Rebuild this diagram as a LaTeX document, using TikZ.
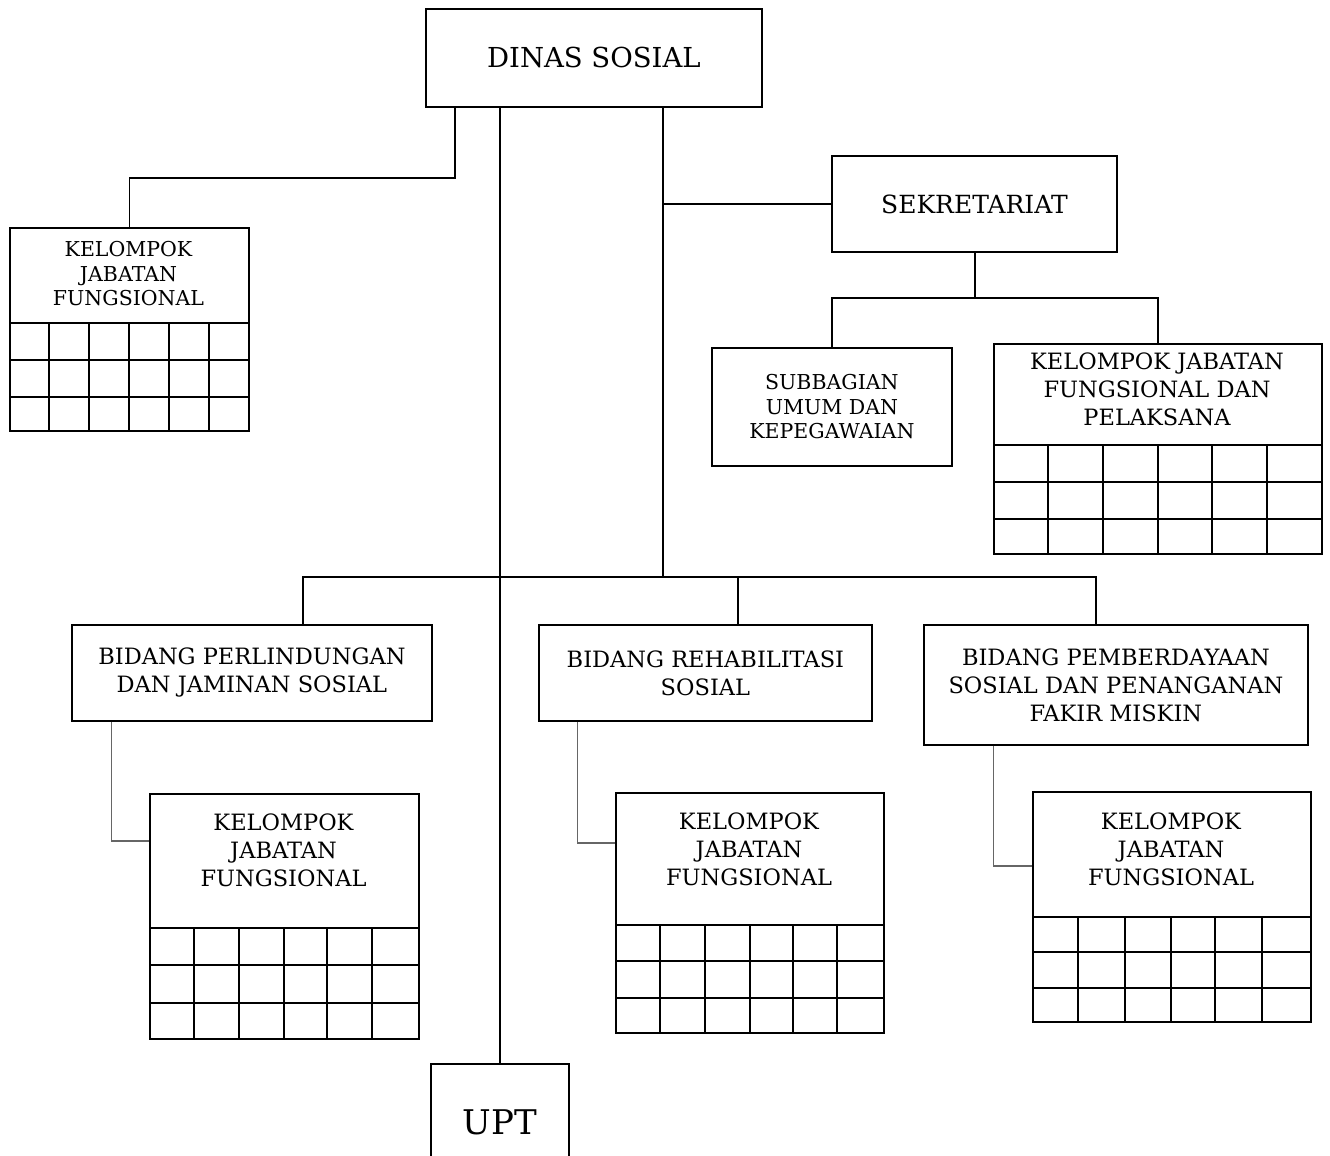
\documentclass[tikz,border=0pt]{standalone}
\usepackage{fontspec}
\setmainfont{DejaVu Serif}
\usetikzlibrary{calc}
\newcommand\txtS{\fontsize{20.5}{24.5}\selectfont}
\newcommand\txtM{\fontsize{22.5}{28}\selectfont}
\begin{document}
\begin{tikzpicture}[x=1pt,y=-1pt,
  unit/.style={draw,line width=1.8pt,inner sep=0pt,anchor=north west,align=center},
  lbl/.style={inner sep=0pt,align=center},
  conn/.style={line width=1.8pt},
  sub/.style={line width=1.1pt,draw=black!60},
  cell/.style={line width=1.8pt}]
\useasboundingbox (0,0) rectangle (1330,1156);
\clip (0,0) rectangle (1330,1156);

% top level
\node[unit,minimum width=336,minimum height=98,font=\fontsize{27.5}{32}\selectfont] (dinas) at (425,8) {DINAS SOSIAL};
\node[unit,minimum width=285,minimum height=96,font=\fontsize{25}{30}\selectfont] (sek) at (831,155) {SEKRETARIAT};
\node[unit,minimum width=240,minimum height=118,font=\txtS] (subag) at (711,347) {SUBBAGIAN\\UMUM DAN\\KEPEGAWAIAN};

% functional groups (box with a 6x3 grid below the title)
\node[unit,minimum width=239,minimum height=203] (kjfL) at (9,227) {};
\node[lbl,font=\txtS] (tL) at (128.5,274) {KELOMPOK\\JABATAN\\FUNGSIONAL};
\foreach \yy in {323,360,397} \draw[cell] (9,\yy) -- (248,\yy);
\foreach \xx in {49,89,129,169,209} \draw[cell] (\xx,323) -- (\xx,430);

\node[unit,minimum width=328,minimum height=210] (kjfS) at (993,343) {};
\node[lbl,font=\txtM] (tS) at (1157,389) {KELOMPOK JABATAN\\FUNGSIONAL DAN\\PELAKSANA};
\foreach \yy in {445,482,519} \draw[cell] (993,\yy) -- (1321,\yy);
\foreach \xx in {1048,1103,1158,1212,1267} \draw[cell] (\xx,445) -- (\xx,553);

% divisions
\node[unit,minimum width=360,minimum height=96,font=\txtM] (bidP) at (71,624) {BIDANG PERLINDUNGAN\\DAN JAMINAN SOSIAL};
\node[unit,minimum width=333,minimum height=96,font=\txtM] (bidR) at (538,624) {BIDANG REHABILITASI\\SOSIAL};
\node[unit,minimum width=384,minimum height=120,font=\txtM] (bidE) at (923,624) {BIDANG PEMBERDAYAAN\\SOSIAL DAN PENANGANAN\\FAKIR MISKIN};

\node[unit,minimum width=269,minimum height=245] (kjf1) at (149,793) {};
\node[lbl,font=\txtM] (t1) at (283.5,850) {KELOMPOK\\JABATAN\\FUNGSIONAL};
\foreach \yy in {928,965,1003} \draw[cell] (149,\yy) -- (418,\yy);
\foreach \xx in {194,239,284,327,372} \draw[cell] (\xx,928) -- (\xx,1038);

\node[unit,minimum width=268,minimum height=240] (kjf2) at (615,792) {};
\node[lbl,font=\txtM] (t2) at (749,849) {KELOMPOK\\JABATAN\\FUNGSIONAL};
\foreach \yy in {925,961,998} \draw[cell] (615,\yy) -- (883,\yy);
\foreach \xx in {660,705,750,793,837} \draw[cell] (\xx,925) -- (\xx,1032);

\node[unit,minimum width=278,minimum height=230] (kjf3) at (1032,791) {};
\node[lbl,font=\txtM] (t3) at (1171,849) {KELOMPOK\\JABATAN\\FUNGSIONAL};
\foreach \yy in {917,952,988} \draw[cell] (1032,\yy) -- (1310,\yy);
\foreach \xx in {1078,1125,1171,1215,1262} \draw[cell] (\xx,917) -- (\xx,1021);

\node[unit,minimum width=138,minimum height=116,font=\fontsize{34}{40}\selectfont] (upt) at (430,1063) {UPT};

% connectors
\coordinate (bendL) at (455,178);
\coordinate (spine) at (663,577);
\coordinate (sekbus) at (975,298);
\draw[conn] (dinas.south -| bendL) -- (bendL) -| (kjfL.north);
\draw[conn] (dinas.south -| upt.north) -- (upt.north);
\draw[conn] (dinas.south -| spine) -- (spine);
\draw[conn] (sek.west) -- (sek.west -| spine);
\draw[conn] (sek.south -| sekbus) -- (sekbus);
\draw[conn] (subag.north) |- (sekbus) -| (kjfS.north);
\draw[conn] ([xshift=51]bidP.north) |- (spine) -| ([xshift=-20]bidE.north);
\draw[conn] ([xshift=32.5]bidR.north) -- ([xshift=32.5]bidR.north |- spine);

\draw[sub] ([xshift=-140]bidP.south) |- ([yshift=-48]kjf1.north west);
\draw[sub] ([xshift=-127.5]bidR.south) |- ([yshift=-51]kjf2.north west);
\draw[sub] ([xshift=-122]bidE.south) |- ([yshift=-75]kjf3.north west);
\end{tikzpicture}
\end{document}
